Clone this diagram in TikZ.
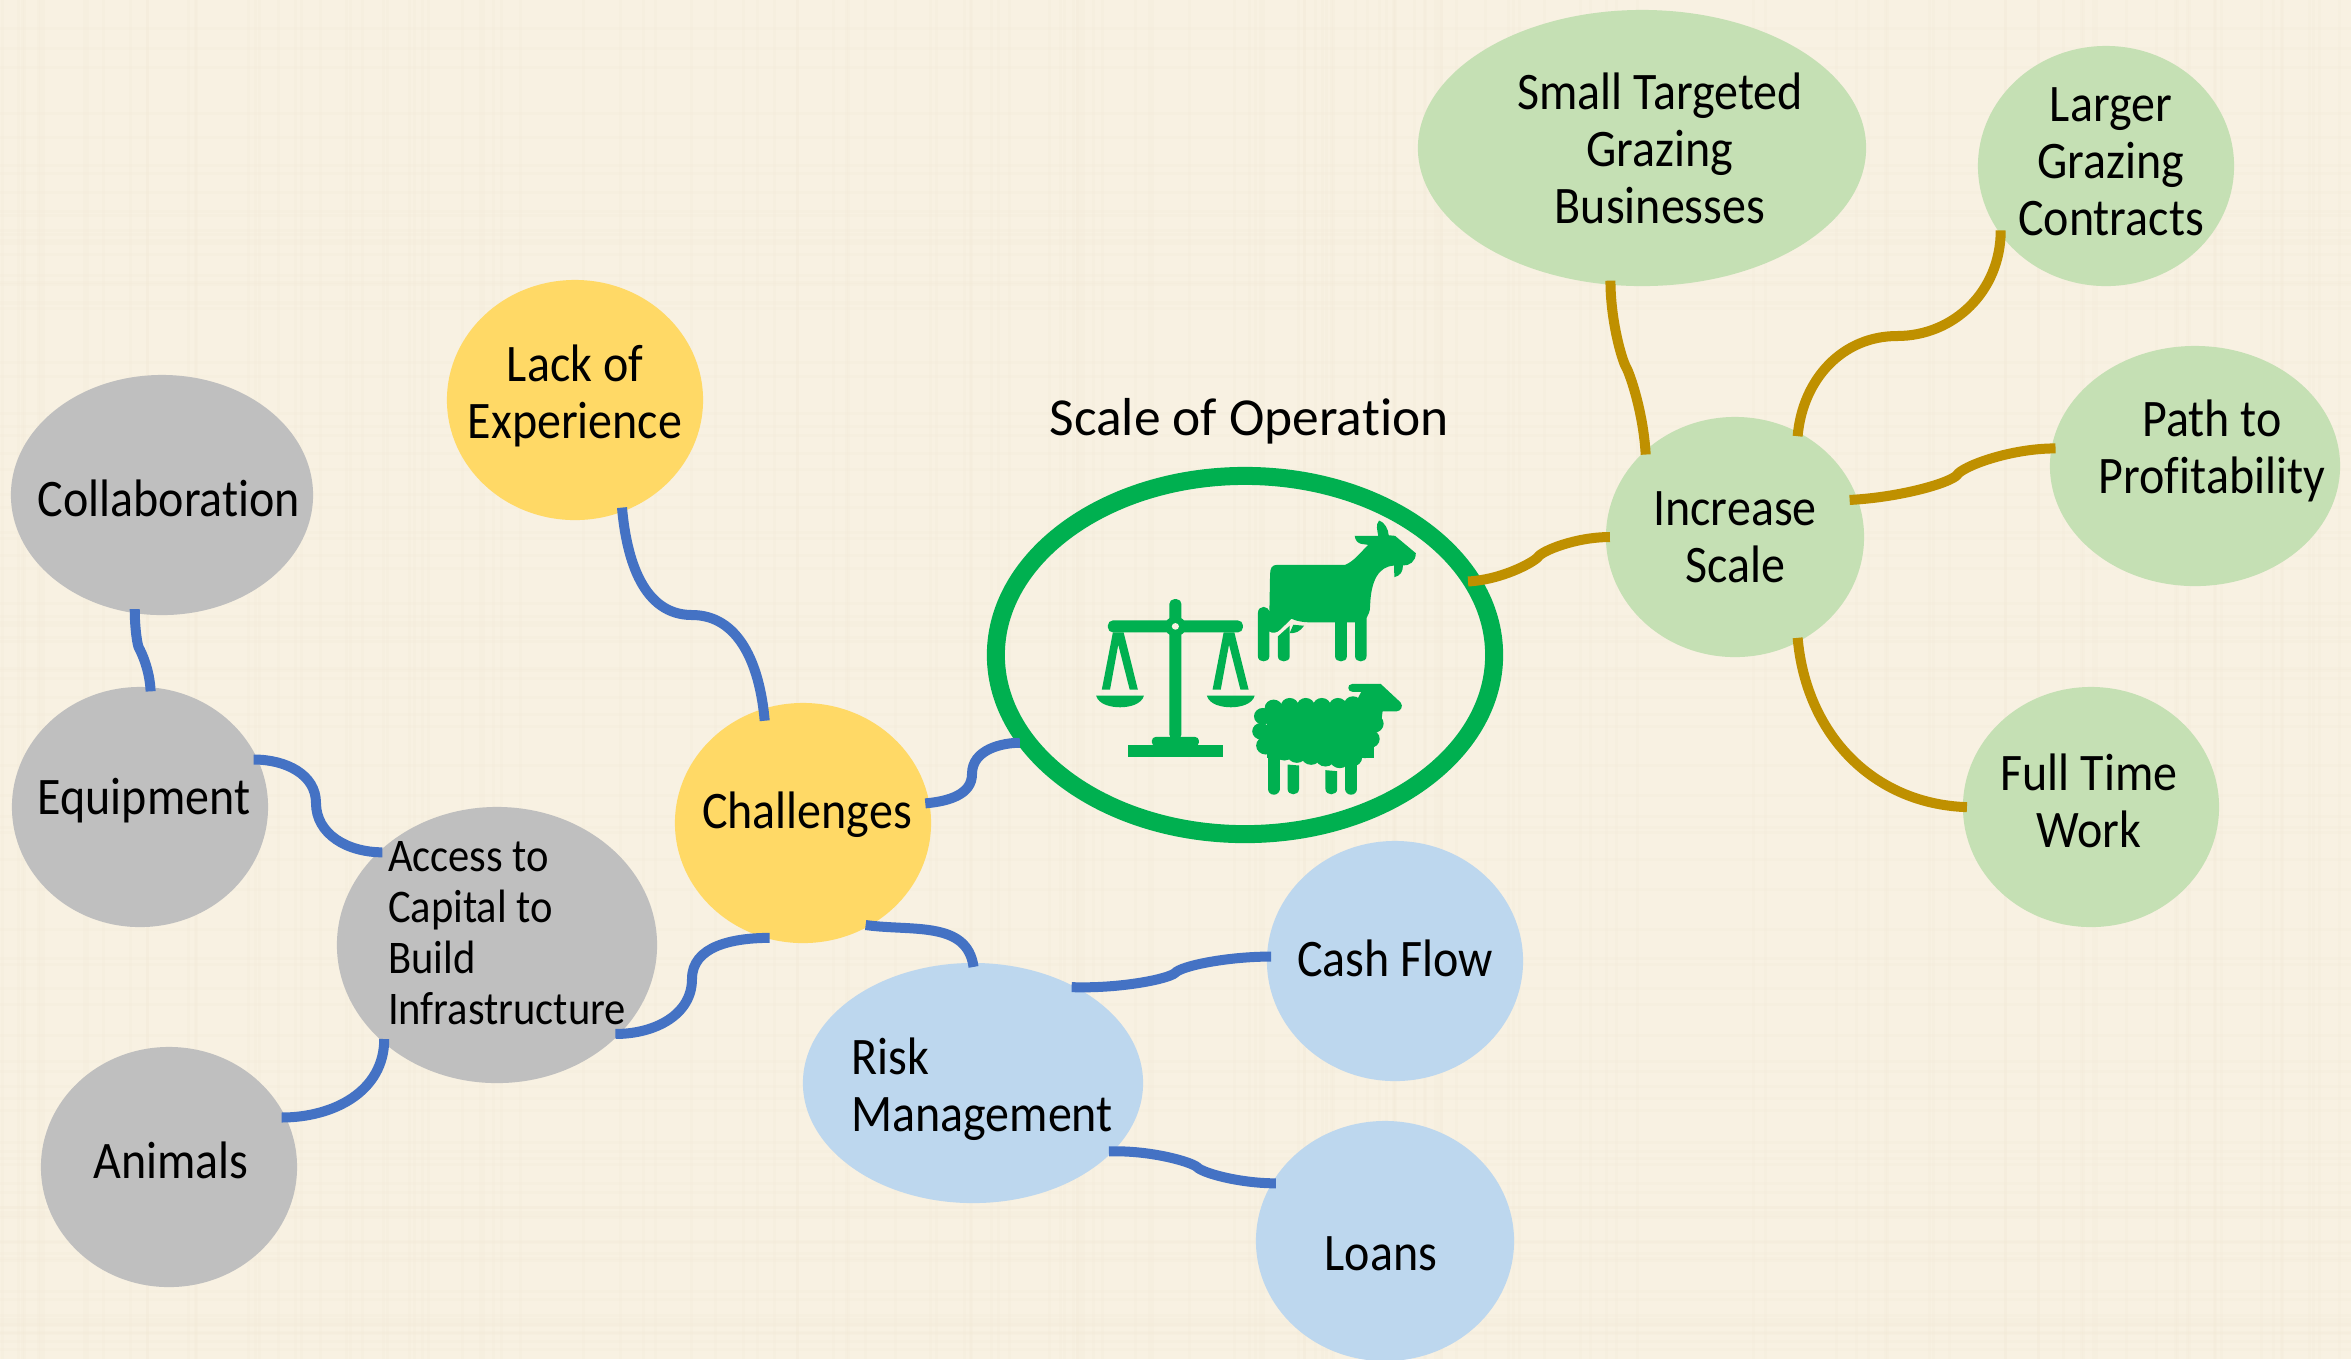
\documentclass[tikz,border=0pt]{standalone}
\usepackage{fontspec}
\setmainfont[Ligatures=NoCommon]{Carlito}
\newfontfamily\narrowfont[FakeStretch=0.91,Ligatures=NoCommon]{Carlito}
\usetikzlibrary{shapes.geometric}
\definecolor{paper}{HTML}{F8F1E2}
\definecolor{weave}{HTML}{F3EAD6}
\definecolor{bubgrey}{HTML}{BFBFBF}
\definecolor{bubyellow}{HTML}{FFD966}
\definecolor{bubblue}{HTML}{BDD7EE}
\definecolor{bubgreen}{HTML}{C5E0B4}
\definecolor{linkblue}{HTML}{4472C4}
\definecolor{linkgold}{HTML}{BF9000}
\definecolor{opgreen}{HTML}{00B050}
\tikzset{
  bubble/.style={ellipse, inner sep=0pt, outer sep=0pt},
  lab/.style={align=center, inner sep=0pt, font=\narrowfont\fontsize{15}{16.2}\selectfont},
  leftlab/.style={lab, align=left},
  smalllab/.style={lab, align=left, font=\narrowfont\fontsize{13.3}{14.5}\selectfont},
  titlelab/.style={inner sep=0pt, font=\fontsize{15.2}{16.2}\selectfont},
  bluelink/.style={draw=linkblue, line width=.1cm, shorten >=-.04cm, shorten <=-.04cm},
  goldlink/.style={draw=linkgold, line width=.1cm, shorten >=-.04cm, shorten <=-.04cm},
  kinkin/.style={out looseness=1.1, in looseness=.25},
  kinkout/.style={out looseness=.25, in looseness=1.1},
  icon/.style={fill=opgreen},
  iconleg/.style={draw=opgreen, line width=.118cm, line cap=round}
}
\begin{document}
\begin{tikzpicture}[x=0.01cm, y=-0.01cm]

\useasboundingbox (0,0) rectangle (2351,1359);
\fill[paper] (0,0) rectangle (2351,1359);
\pgfmathsetseed{17}
\foreach \i in {1,...,150} {
  \pgfmathsetmacro{\weavex}{1175+1175*rand}
  \draw[weave, opacity=.22, line width=.03cm] (\weavex,0) -- (\weavex,1359);
}
\foreach \i in {1,...,90} {
  \pgfmathsetmacro{\weavey}{680+680*rand}
  \draw[weave, opacity=.22, line width=.03cm] (0,\weavey) -- (2351,\weavey);
}

\node[bubble, fill=bubgreen, minimum width=4.48cm, minimum height=2.76cm, label={[lab,xshift=.18cm]center:{Small Targeted\\Grazing\\Businesses}}] (small) at (1642,148) {};
\node[bubble, fill=bubgreen, minimum width=2.56cm, minimum height=2.4cm, label={[lab,xshift=.05cm,yshift=.04cm]center:{Larger\\Grazing\\Contracts}}] (larger) at (2106,166) {};
\node[bubble, fill=bubgreen, minimum width=2.9cm, minimum height=2.4cm, label={[lab,xshift=.17cm,yshift=.15cm]center:{Path to\\Profitability}}] (path) at (2195,466) {};
\node[bubble, fill=bubgreen, minimum width=2.58cm, minimum height=2.4cm, label={[lab]center:{Increase\\Scale}}] (increase) at (1735,537) {};
\node[bubble, fill=bubgreen, minimum width=2.56cm, minimum height=2.4cm, label={[lab,xshift=-.02cm,yshift=.06cm]center:{Full Time\\Work}}] (fulltime) at (2091,807) {};
\node[bubble, fill=bubblue, minimum width=2.56cm, minimum height=2.4cm, label={[lab,yshift=.03cm]center:{Cash Flow}}] (cash) at (1395,961) {};
\node[bubble, fill=bubblue, minimum width=2.58cm, minimum height=2.4cm, label={[lab,xshift=-.04cm,yshift=-.13cm]center:{Loans}}] (loans) at (1385,1241) {};
\node[bubble, fill=bubblue, minimum width=3.4cm, minimum height=2.4cm, label={[leftlab,xshift=.09cm,yshift=-.06cm]center:{Risk\\Management}}] (risk) at (973,1083) {};
\node[bubble, fill=bubyellow, minimum width=2.56cm, minimum height=2.4cm, label={[lab,xshift=.04cm,yshift=.08cm]center:{Challenges}}] (chal) at (803,823) {};
\node[bubble, fill=bubyellow, minimum width=2.56cm, minimum height=2.4cm, label={[lab,yshift=.04cm]center:{Lack of\\Experience}}] (lack) at (575,400) {};
\node[bubble, fill=bubgrey, minimum width=3.2cm, minimum height=2.76cm, label={[smalllab,xshift=.1cm,yshift=.12cm]center:{Access to\\Capital to\\Build\\Infrastructure}}] (access) at (497,945) {};
\node[bubble, fill=bubgrey, minimum width=2.56cm, minimum height=2.4cm, label={[lab,xshift=.04cm,yshift=.06cm]center:{Equipment}}] (equip) at (140,807) {};
\node[bubble, fill=bubgrey, minimum width=3.02cm, minimum height=2.4cm, label={[lab,xshift=.07cm,yshift=-.03cm]center:{Collaboration}}] (collab) at (162,495) {};
\node[bubble, fill=bubgrey, minimum width=2.56cm, minimum height=2.4cm, label={[lab,xshift=.02cm,yshift=.07cm]center:{Animals}}] (animals) at (169,1167) {};
\node[bubble, draw=opgreen, line width=.18cm, minimum width=4.98cm, minimum height=3.58cm] (scale) at (1245,655) {};
\node[titlelab] (scaletitle) at (1249,421) {Scale of Operation};

\coordinate (lackmid) at (692,615);
\coordinate (chalmid) at (972,774);
\coordinate (incmid) at (1538,557);
\coordinate (smallmid) at (1626,367);
\coordinate (largermid) at (1897,336);
\coordinate (pathmid) at (1957,475);
\coordinate (accessmid) at (692,979);
\coordinate (equipmid) at (316,803);
\coordinate (collabmid) at (139,648);
\coordinate (cashmid) at (1175,973);
\coordinate (loansmid) at (1197,1167);

\draw[bluelink, shorten >=-.12cm] (lack.-67) to[out=-85,in=180] (lackmid) to[out=0,in=95] (chal.109);
\draw[bluelink, shorten >=.08cm] (chal.9) to[out=5,in=-90] (chalmid) to[out=90,in=180] (scale.202);
\draw[goldlink] (scale.18) to[kinkin,out=3,in=-130] (incmid) to[kinkout,out=60,in=180] (increase.180);
\draw[goldlink] (increase.136) to[kinkin,out=93,in=-60] (smallmid) to[kinkout,out=120,in=-90] (small.-103);
\draw[goldlink] (increase.59) to[out=85,in=180] (largermid) to[out=0,in=-90] (larger.213);
\draw[goldlink, shorten <=-.08cm] (increase.17) to[kinkin,out=3,in=-130] (pathmid) to[kinkout,out=60,in=180] (path.173);
\draw[goldlink] (increase.-59) to[out=-85,in=178] (fulltime.180);
\draw[bluelink] (chal.-57) to[out=-8,in=98] (risk.90);
\draw[bluelink] (chal.-108) to[out=180,in=90] (accessmid) to[out=-90,in=0] (access.-36);
\draw[bluelink] (access.142) to[out=180,in=-90] (equipmid) to[out=90,in=0] (equip.22);
\draw[bluelink] (access.-139) to[out=-90,in=0] (animals.23);
\draw[bluelink] (equip.85) to[kinkin,out=92,in=-60] (collabmid) to[kinkout,out=120,in=-90] (collab.-103);
\draw[bluelink] (risk.43) to[kinkin,out=-2,in=-140] (cashmid) to[kinkout,out=50,in=180] (cash.178);
\draw[bluelink] (risk.-26) to[kinkin,out=2,in=140] (loansmid) to[kinkout,out=-50,in=180] (loans.153);

\begin{scope}[shift={(970,450)}, x=0.00357cm, y=-0.00333cm]
\fill[icon, rounded corners=.05cm] (558,870) -- (558,448) -- (592,448) -- (592,870) -- cycle;
\fill[icon, rounded corners=.05cm] (386,512) -- (764,512) -- (764,548) -- (386,548) -- cycle;
\fill[icon] (575,530) circle[x radius=30, y radius=30];
\fill[paper] (575,530) circle[x radius=10, y radius=10];
\foreach \panshift in {0,310} {
  \fill[icon, xshift=\panshift*0.00357cm] (400,548) -- (430,548) -- (470,720) -- (447,720) -- (415,585) -- (392,720) -- (369,720) -- cycle;
  \fill[icon, xshift=\panshift*0.00357cm] (353,738) -- (487,738) .. controls (480,765) and (445,773) .. (420,773) .. controls (395,773) and (360,765) .. (353,738) -- cycle;
}
\fill[icon] (442,886) rectangle (708,921);
\fill[icon, rounded corners=.04cm] (509,890) -- (509,862) -- (641,862) -- (641,890) -- cycle;

\fill[icon] (840,375) .. controls (840,355) and (845,345) .. (860,345) -- (1050,345) .. controls (1075,335) and (1095,305) .. (1115,285) -- (1095,282) .. controls (1085,280) and (1078,270) .. (1077,258) -- (1143,258) .. controls (1140,240) and (1135,225) .. (1145,212) .. controls (1160,215) and (1172,240) .. (1172,256) -- (1190,258) -- (1248,310) .. controls (1248,335) and (1230,348) .. (1212,347) .. controls (1212,365) and (1205,378) .. (1188,382) -- (1187,347) .. controls (1145,350) and (1122,390) .. (1120,470) .. controls (1120,485) and (1115,495) .. (1110,505) -- (1110,620) .. controls (1110,640) and (1078,640) .. (1078,620) -- (1078,518) -- (1055,518) -- (1055,620) .. controls (1055,640) and (1022,640) .. (1022,620) -- (1022,518) -- (960,518) .. controls (935,518) and (915,515) .. (900,507) -- (868,540) .. controls (860,550) and (845,552) .. (838,545) -- (838,620) .. controls (838,640) and (806,640) .. (806,620) -- (806,490) .. controls (806,465) and (838,465) .. (838,490) -- cycle;
\fill[icon] (862,560) -- (895,528) -- (895,620) .. controls (895,640) and (862,640) .. (862,620) -- cycle;
\fill[icon] (905,525) -- (935,528) .. controls (925,545) and (910,552) .. (895,550) -- cycle;

\fill[icon] (1070,703) -- (1150,703) -- (1205,758) .. controls (1215,770) and (1205,785) .. (1195,785) -- (1155,785) -- (1150,830) -- (1060,800) -- (1095,727) -- (1072,727) .. controls (1055,727) and (1055,703) .. (1070,703) -- cycle;
\fill[icon] (830,780) rectangle (1130,925);
\foreach \woolx/\wooly/\woolr in {850/775/25, 895/770/25, 940/770/25, 985/770/25, 1030/770/25, 1072/765/25, 820/800/25, 815/845/25, 828/888/27, 880/905/28, 915/912/28, 955/918/28, 995/923/28, 1035/928/28, 1070/923/28, 1105/900/26, 1120/868/27, 1130/822/28} {
  \fill[icon] (\woolx,\wooly) circle[x radius=\woolr, y radius=\woolr];
}
\draw[iconleg] (850,900) -- (850,1018);
\draw[iconleg] (1067,920) -- (1067,1018);
\fill[icon] (889,945) -- (921,948) -- (921,1018) .. controls (921,1040) and (889,1040) .. (889,1018) -- cycle;
\fill[icon] (995,962) -- (1028,965) -- (1028,1018) .. controls (1028,1040) and (995,1040) .. (995,1018) -- cycle;
\end{scope}

\end{tikzpicture}
\end{document}
